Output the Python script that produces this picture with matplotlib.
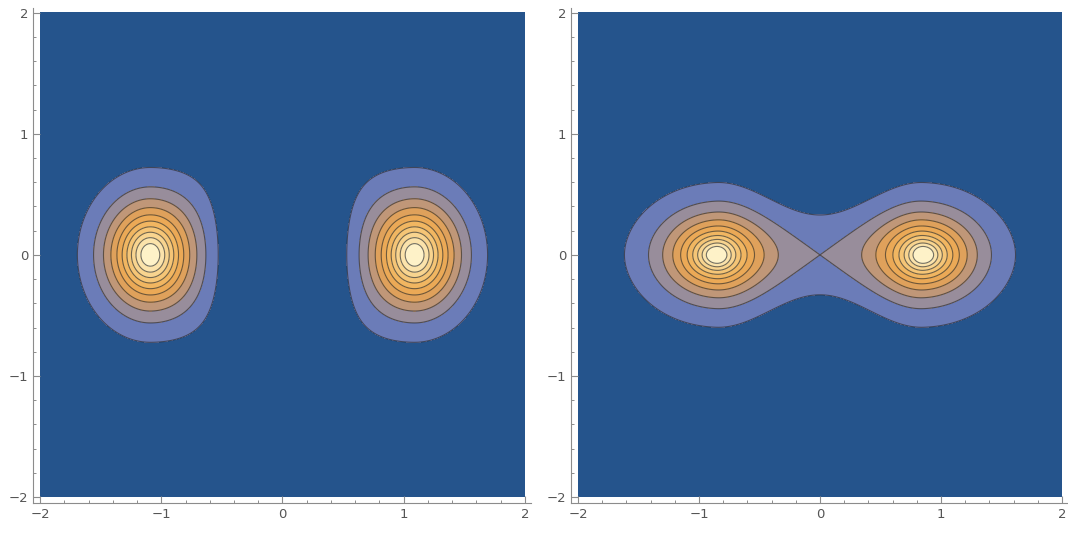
import numpy as np
import matplotlib.pyplot as plt
from matplotlib.ticker import MultipleLocator

# fill colours for the contour bands, lowest band first
band_colors = ['#25548c', '#6b7cb8', '#988d9b', '#c09778', '#dfa15b', '#eba956',
               '#f1b661', '#f5c576', '#f8d48f', '#fbe3ab', '#fef2c8']
n_contours = 10
major_ticks = [-2, -1, 0, 1, 2]

# left panel: two separated lobes (node along x = 0)
left_center = 1.09
left_alpha, left_rho0 = 5.97, 0.30
left_ky, left_ky_bulge = 1.20, 0.25
left_wall, left_wall_pow = 0.817, 8

# right panel: two joined lobes with a saddle at the origin
right_center = 0.855
right_alpha, right_rho0 = 4.314, 0.05
right_sx_out, right_sx_in = 1.234, 1.120
right_sy, right_neck = 0.98, 0.55

grid = np.linspace(-2, 2, 801)
X, Y = np.meshgrid(grid, grid)


def profile(rho, alpha, rho0):
    return alpha * rho**2 / (rho0 + rho)


def left_density(x, y):
    u = np.abs(x) - left_center
    inner = u < 0
    q = u**2 + np.where(inner, (np.abs(u) / left_wall)**left_wall_pow, 0)
    ky = np.where(inner, left_ky * (1 + left_ky_bulge * (u / 0.602)**2), left_ky)
    rho = np.sqrt(q + (y / ky)**2)
    return np.exp(-profile(rho, left_alpha, left_rho0))


def right_density(x, y):
    def lobe(u):
        sx = np.where(u >= 0, right_sx_out, right_sx_in)
        sy = np.where(u >= 0, right_sy,
                      right_sy / (1 + right_neck * (u / right_center)**2))
        rho = np.sqrt((u / sx)**2 + (y / sy)**2)
        return np.exp(-0.5 * profile(rho, right_alpha, right_rho0))
    psi = lobe(x - right_center) + lobe(-x - right_center)
    return psi**2


Z_left = left_density(X, Y)
Z_right = right_density(X, Y)

step_left = Z_left.max() / (n_contours + 1)
step_right = right_density(np.array(0.0), np.array(0.0)) / 2

fig = plt.figure(figsize=(10.68, 5.34), dpi=100)
ax1 = fig.add_axes([33 / 1068, 31 / 534, 498 / 1068, 495 / 534])
ax2 = fig.add_axes([571 / 1068, 31 / 534, 497 / 1068, 495 / 534])

for ax, Z, step in [(ax1, Z_left, step_left), (ax2, Z_right, step_right)]:
    lv = [step * k for k in range(1, n_contours + 1)]
    ax.contourf(X, Y, Z, levels=[-1] + lv + [Z.max() * 2], colors=band_colors)
    ax.contour(X, Y, Z, levels=lv, colors='#2a2a2a', linewidths=0.8, alpha=0.65)

    ax.set_xlim(-2.058, 2.05)
    ax.set_ylim(-2.05, 2.04)
    for s in ['top', 'right']:
        ax.spines[s].set_visible(False)
    for s in ['left', 'bottom']:
        ax.spines[s].set_color('#8c8c8c')
        ax.spines[s].set_linewidth(0.8)
    ax.set_xticks(major_ticks)
    ax.set_yticks(major_ticks)
    ax.xaxis.set_minor_locator(MultipleLocator(0.2))
    ax.yaxis.set_minor_locator(MultipleLocator(0.2))
    ax.tick_params(which='major', direction='in', length=5, width=0.8,
                   color='#8c8c8c', labelcolor='#555555', labelsize=9.5)
    ax.tick_params(which='minor', direction='in', length=2.5, width=0.7,
                   color='#8c8c8c')
    ax.set_facecolor('white')

fig.savefig('out.png', dpi=100)
